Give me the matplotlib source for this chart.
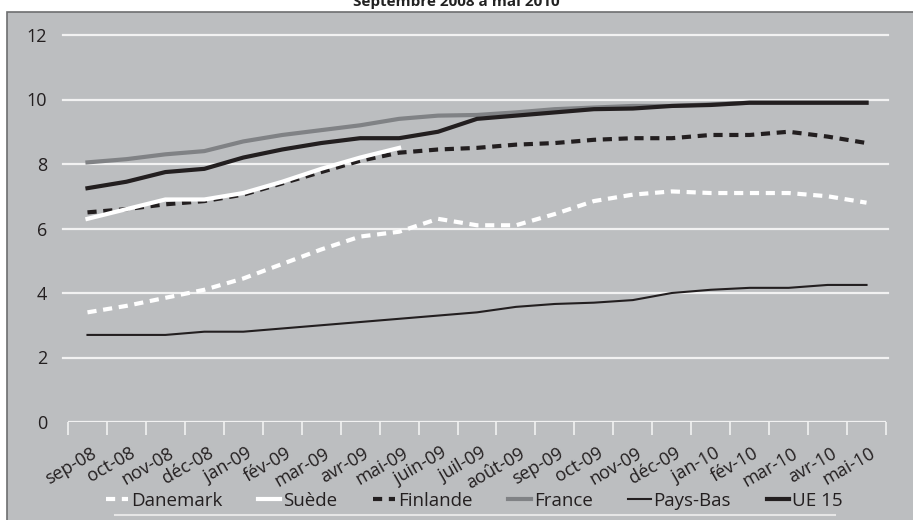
import matplotlib
matplotlib.use("Agg")
import matplotlib.pyplot as plt
from matplotlib.patches import Rectangle
from matplotlib.lines import Line2D
import matplotlib.transforms as mtrans
import numpy as np

plt.rcParams['font.family'] = ['Open Sans', 'DejaVu Sans']

months = ["sep-08", "oct-08", "nov-08", "déc-08", "jan-09", "fév-09", "mar-09",
          "avr-09", "mai-09", "juin-09", "juil-09", "août-09", "sep-09", "oct-09",
          "nov-09", "déc-09", "jan-10", "fév-10", "mar-10", "avr-10", "mai-10"]

danemark = [3.4, 3.6, 3.85, 4.1, 4.45, 4.9, 5.35, 5.75, 5.9, 6.3, 6.1, 6.1, 6.45,
            6.85, 7.05, 7.15, 7.1, 7.1, 7.1, 7.0, 6.8]
suede = [6.3, 6.6, 6.9, 6.9, 7.1, 7.45, 7.85, 8.2, 8.5]
finlande = [6.5, 6.6, 6.75, 6.85, 7.05, 7.4, 7.75, 8.1, 8.35, 8.45, 8.5, 8.6, 8.65,
            8.75, 8.8, 8.8, 8.9, 8.9, 9.0, 8.85, 8.65]
france = [8.05, 8.15, 8.3, 8.4, 8.7, 8.9, 9.05, 9.2, 9.4, 9.5, 9.52, 9.6, 9.7,
          9.75, 9.8, 9.8, 9.85, 9.9, 9.9, 9.9, 9.9]
pays_bas = [2.7, 2.7, 2.7, 2.8, 2.8, 2.9, 3.0, 3.1, 3.2, 3.3, 3.4, 3.57, 3.66,
            3.7, 3.78, 4.0, 4.1, 4.16, 4.16, 4.25, 4.25]
ue15 = [7.25, 7.45, 7.75, 7.85, 8.2, 8.45, 8.65, 8.8, 8.8, 9.0, 9.4, 9.5, 9.6,
        9.7, 9.72, 9.8, 9.83, 9.9, 9.9, 9.9, 9.9]

yticks = [0, 2, 4, 6, 8, 10, 12]
title = "Septembre 2008 à mai 2010"

W, H = 913, 520
fig = plt.figure(figsize=(W / 100, H / 100), dpi=100)
fig.patch.set_facecolor("white")

bg = "#bcbec0"
fig.patches.append(Rectangle((7 / W, -0.01), (W - 6) / W, 1 - 12 / H + 0.01,
                             transform=fig.transFigure, facecolor=bg,
                             edgecolor="#6d6e70", linewidth=1.2, zorder=-10))

fig.text(0.5, 1 - 6 / H, title, ha="center", va="baseline", fontsize=11,
         fontweight="bold", color="#222222")

ax = fig.add_axes([68 / W, 1 - 422 / H, (886 - 68) / W, (422 - 35) / H])
ax.set_facecolor("none")
x = np.arange(len(months))
ax.set_xlim(-0.5, len(months) - 0.5)
ax.set_ylim(0, 12)

for yv in yticks[1:]:
    ax.axhline(yv, color="#f2f2f2", lw=1.6, zorder=1, xmin=-0.006, xmax=1.002, clip_on=False)
ax.axhline(0, color="#f2f2f2", lw=1.6, zorder=1)

ax.plot(x, pays_bas, color="#231f20", lw=1.5, zorder=3)
ax.plot(x, danemark, color="white", lw=3, dashes=(2.2, 1.6), zorder=3)
ax.plot(x, finlande, color="#231f20", lw=3, dashes=(2.2, 1.6), zorder=3)
ax.plot(x, france, color="#808285", lw=3, zorder=3)
ax.plot(x, ue15, color="#231f20", lw=3, zorder=4)
ax.plot(x[:len(suede)], suede, color="white", lw=3, zorder=5)

for s in ax.spines.values():
    s.set_visible(False)

ax.set_yticks(yticks)
ax.set_yticklabels([str(v) for v in yticks], fontsize=13, color="#231f20")
ax.tick_params(axis="y", length=0, pad=15)

ax.set_xticks(np.arange(len(months) + 1) - 0.5, minor=False)
ax.set_xticklabels([])
ax.tick_params(axis="x", which="major", direction="out", length=9, width=1.2,
               color="#f2f2f2")
ax.set_xticks(x, minor=True)
ax.set_xticklabels(months, minor=True, rotation=30, ha="right", va="top",
                   rotation_mode="anchor", fontsize=13, color="#231f20")
ax.tick_params(axis="x", which="minor", length=0, pad=16)
for lbl in ax.get_xticklabels(minor=True):
    lbl.set_transform(lbl.get_transform() + mtrans.ScaledTranslation(3 / 100, 0, fig.dpi_scale_trans))

handles = [
    Line2D([], [], color="white", lw=3, dashes=(2.2, 1.6)),
    Line2D([], [], color="white", lw=3),
    Line2D([], [], color="#231f20", lw=3, dashes=(2.2, 1.6)),
    Line2D([], [], color="#808285", lw=3),
    Line2D([], [], color="#231f20", lw=1.5),
    Line2D([], [], color="#231f20", lw=3),
]
labels = ["Danemark", "Suède", "Finlande", "France", "Pays-Bas", "UE 15"]
fig.legend(handles, labels, loc="center", bbox_to_anchor=(474 / W, 1 - 501 / H),
           ncol=6, frameon=False, fontsize=13.5, handlelength=1.2,
           handletextpad=0.15, columnspacing=1.9, labelcolor="#231f20")

fig.lines.append(Line2D([115 / W, 835 / W], [1 - 515 / H] * 2, transform=fig.transFigure,
                        color="#e6e6e6", lw=1.5))

fig.savefig("out.png", dpi=100, facecolor=fig.get_facecolor())
